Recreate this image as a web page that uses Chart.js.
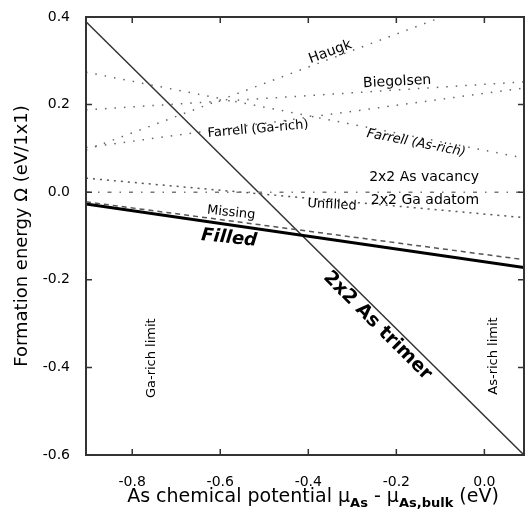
<!DOCTYPE html>
<html>
<head>
<meta charset="utf-8">
<script src="https://cdn.jsdelivr.net/npm/chart.js@4.4.0/dist/chart.umd.min.js"></script>
<style>
  html, body { margin: 0; padding: 0; background: #fff; }
  #wrap { width: 525px; height: 511px; }
</style>
</head>
<body>
<div id="wrap"><canvas id="energyChart" width="525" height="511"></canvas></div>
<script>
// chemical potential range (eV) - every line is drawn between these two ends
const muRange = [-0.905, 0.09];
const xTickValues = [-0.8, -0.6, -0.4, -0.2, 0.0];
const yTickValues = [0.4, 0.2, 0.0, -0.2, -0.4, -0.6];

// formation energy at the left / right end of muRange (eV/1x1)
const asTrimer = [0.389, -0.600];
const filled = [-0.027, -0.172];
const missing = [-0.022, -0.154];
const unfilled = [0.032, -0.058];
const vacancyAdatom = [0.000, 0.000];
const farrellAsRich = [0.274, 0.078];
const farrellGaRich = [0.102, 0.238];
const biegolsen = [0.188, 0.252];
const haugk = [0.096, 0.470];

const FONT = "'DejaVu Sans', sans-serif";

function pts(series) {
    return muRange.map((mu, i) => ({ x: mu, y: series[i] }));
}

// text written on the plot, placed in data units
const notes = [
    { text: 'Haugk', x: -0.35, y: 0.32, rot: -20, font: '14px ' + FONT },
    { text: 'Biegolsen', x: -0.198, y: 0.252, rot: -3, font: '14px ' + FONT },
    { text: 'Farrell (Ga-rich)', x: -0.514, y: 0.144, rot: -5, font: '13px ' + FONT },
    { text: 'Farrell (As-rich)', x: -0.155, y: 0.112, rot: 11, font: 'oblique 13px ' + FONT },
    { text: '2x2 As vacancy', x: -0.137, y: 0.035, rot: 0, font: '14px ' + FONT },
    { text: '2x2 Ga adatom', x: -0.135, y: -0.018, rot: 0, font: '14px ' + FONT },
    { text: 'Unfilled', x: -0.346, y: -0.029, rot: 3, font: '13px ' + FONT },
    { text: 'Missing', x: -0.575, y: -0.047, rot: 6, font: '13px ' + FONT },
    { text: 'Filled', x: -0.58, y: -0.105, rot: 6, font: 'oblique bold 18px ' + FONT },
    { text: '2x2 As trimer', x: -0.243, y: -0.305, rot: 45, font: 'bold 19px ' + FONT },
    { text: 'Ga-rich limit', x: -0.755, y: -0.379, rot: -90, font: '13px ' + FONT },
    { text: 'As-rich limit', x: 0.02, y: -0.374, rot: -90, font: '13px ' + FONT }
];

const overlay = {
    id: 'overlay',
    afterDatasetsDraw(chart) {
        const { ctx, chartArea: a, scales: { x, y } } = chart;
        ctx.save();
        ctx.strokeStyle = '#333';
        ctx.lineWidth = 2;
        ctx.strokeRect(a.left, a.top, a.right - a.left, a.bottom - a.top);

        // inward tick marks on all four sides
        ctx.lineWidth = 1.5;
        ctx.beginPath();
        xTickValues.forEach(v => {
            const px = x.getPixelForValue(v);
            ctx.moveTo(px, a.bottom); ctx.lineTo(px, a.bottom - 6);
            ctx.moveTo(px, a.top); ctx.lineTo(px, a.top + 6);
        });
        yTickValues.forEach(v => {
            const py = y.getPixelForValue(v);
            ctx.moveTo(a.left, py); ctx.lineTo(a.left + 6, py);
            ctx.moveTo(a.right, py); ctx.lineTo(a.right - 6, py);
        });
        ctx.stroke();

        ctx.fillStyle = '#000';
        ctx.textAlign = 'center';
        ctx.textBaseline = 'middle';
        notes.forEach(n => {
            ctx.save();
            ctx.translate(x.getPixelForValue(n.x), y.getPixelForValue(n.y));
            ctx.rotate(n.rot * Math.PI / 180);
            ctx.font = n.font;
            ctx.fillText(n.text, 0, 0);
            ctx.restore();
        });

        // x axis title with subscripts
        const parts = [
            { t: 'As chemical potential ', sub: false },
            { t: '\u03bc', sub: false },
            { t: 'As', sub: true },
            { t: ' - \u03bc', sub: false },
            { t: 'As,bulk', sub: true },
            { t: ' (eV)', sub: false }
        ];
        const mainFont = '19px ' + FONT;
        const subFont = 'bold 13px ' + FONT;
        let total = 0;
        parts.forEach(p => {
            ctx.font = p.sub ? subFont : mainFont;
            p.w = ctx.measureText(p.t).width;
            total += p.w;
        });
        let cx = 313 - total / 2;
        ctx.textAlign = 'left';
        ctx.textBaseline = 'alphabetic';
        parts.forEach(p => {
            ctx.font = p.sub ? subFont : mainFont;
            ctx.fillText(p.t, cx, p.sub ? 507 : 502);
            cx += p.w;
        });
        ctx.restore();
    }
};

const dotted = { borderColor: '#666', borderWidth: 1.5, borderDash: [1.5, 8] };

new Chart(document.getElementById('energyChart').getContext('2d'), {
    type: 'line',
    data: {
        datasets: [
            Object.assign({ label: 'Haugk', data: pts(haugk) }, dotted),
            Object.assign({ label: 'Biegolsen', data: pts(biegolsen) }, dotted),
            Object.assign({ label: 'Farrell (Ga-rich)', data: pts(farrellGaRich) }, dotted),
            Object.assign({ label: 'Farrell (As-rich)', data: pts(farrellAsRich) }, dotted),
            { label: '2x2 As vacancy / Ga adatom', data: pts(vacancyAdatom), borderColor: '#777', borderWidth: 1.5, borderDash: [4, 8, 1.5, 8] },
            { label: 'Unfilled', data: pts(unfilled), borderColor: '#555', borderWidth: 1.5, borderDash: [2, 5] },
            { label: 'Missing', data: pts(missing), borderColor: '#555', borderWidth: 1.5, borderDash: [5, 4] },
            { label: 'Filled', data: pts(filled), borderColor: '#000', borderWidth: 3 },
            { label: '2x2 As trimer', data: pts(asTrimer), borderColor: '#333', borderWidth: 1.5 }
        ]
    },
    options: {
        responsive: false,
        animation: false,
        layout: { padding: { top: 17, right: 1, left: 0, bottom: 0 } },
        elements: { point: { radius: 0 }, line: { tension: 0, fill: false } },
        plugins: { legend: { display: false }, tooltip: { enabled: false } },
        scales: {
            x: {
                type: 'linear',
                min: muRange[0],
                max: muRange[1],
                grid: { display: false },
                border: { display: false },
                afterBuildTicks: s => { s.ticks = xTickValues.map(v => ({ value: v })); },
                afterFit: s => { s.height = 56; },
                ticks: {
                    color: '#000', padding: 11, maxRotation: 0,
                    font: { family: FONT, size: 14 },
                    callback: v => v.toFixed(1)
                }
            },
            y: {
                min: -0.6,
                max: 0.4,
                grid: { display: false },
                border: { display: false },
                afterBuildTicks: s => { s.ticks = yTickValues.map(v => ({ value: v })); },
                afterFit: s => { s.width = 86; },
                ticks: {
                    color: '#000', padding: 8,
                    font: { family: FONT, size: 14 },
                    callback: v => v.toFixed(1)
                },
                title: {
                    display: true,
                    text: 'Formation energy \u03a9 (eV/1x1)',
                    color: '#000',
                    font: { family: FONT, size: 18 },
                    padding: { top: 12, bottom: 0 }
                }
            }
        }
    },
    plugins: [overlay]
});
</script>
</body>
</html>
